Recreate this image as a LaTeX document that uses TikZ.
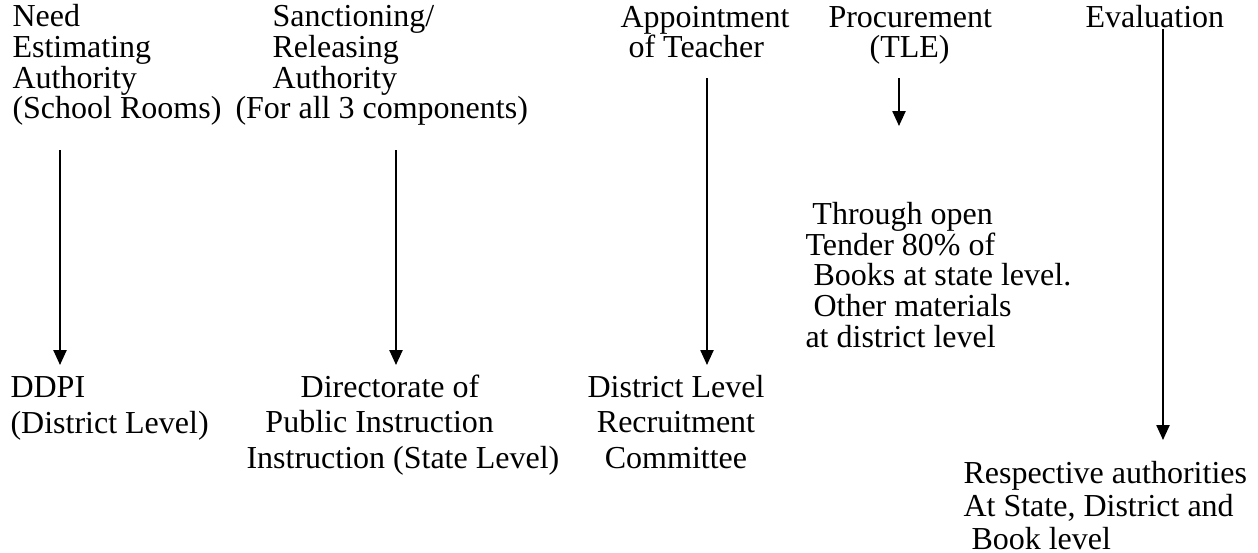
\documentclass[tikz,border=0pt]{standalone}
\usepackage{fontspec}
\setmainfont{Liberation Serif}
\usetikzlibrary{arrows.meta}
\begin{document}
\begin{tikzpicture}[x=0.375pt,y=0.375pt,
  txt/.style={inner sep=0pt, font=\fontsize{12pt}{11.44pt}\selectfont, align=left, anchor=base west},
  txtb/.style={txt, font=\fontsize{12pt}{13.4pt}\selectfont},
  txtr/.style={txt, font=\fontsize{12pt}{12.2pt}\selectfont},
  ctxt/.style={inner sep=0pt, font=\fontsize{12pt}{13.4pt}\selectfont, align=center, anchor=base},
  arr/.style={line width=0.75pt, -{Triangle[length=5.6pt,width=4.9pt]}}]
\fill[white] (0,0) rectangle (1258,-552);
\useasboundingbox (0,0) rectangle (1258,-552);
% top row (anchor = baseline of last line)
\node[txt] (need) at (12,-118.5) {Need\\Estimating\\Authority\\(School Rooms)};
\node[txt] (sanc) at (235,-118.5) {\hspace*{13.9pt}Sanctioning/\\\hspace*{13.9pt}Releasing\\\hspace*{13.9pt}Authority\\(For all 3 components)};
\node[txt] (appt) at (620,-57.5) {Appointment\\\hspace*{3pt}of Teacher};
\node[txt] (proc) at (828,-57.5) {Procurement\\\hspace*{15.4pt}(TLE)};
\node[txt] (eval) at (1085,-27) {Evaluation};
% procurement result
\node[txt] (tender) at (805,-347) {\hspace*{2.6pt}Through open\\Tender 80\% of\\\hspace*{3pt}Books at state level.\\\hspace*{3pt}Other materials\\at district level};
% bottom row
\node[txtb] (ddpi) at (10,-433) {DDPI\\(District Level)};
\node[txtb] (dpi) at (246,-468.5) {\hspace*{20.3pt}Directorate of\\\hspace*{7.1pt}Public Instruction\\Instruction (State Level)};
\node[ctxt] (dlrc) at (676,-468.5) {District Level\\Recruitment\\Committee};
\node[txtr] (resp) at (963,-549) {Respective authorities\\At State, District and\\\hspace*{3pt}Book level};
% arrow ends
\coordinate (a1s) at (60,-150);  \coordinate (a1e) at (60,-365);
\coordinate (a2s) at (396,-150); \coordinate (a2e) at (396,-365);
\coordinate (a3s) at (707,-78);  \coordinate (a3e) at (707,-365);
\coordinate (a4s) at (899,-78);  \coordinate (a4e) at (899,-126);
\coordinate (a5s) at (1163,-29); \coordinate (a5e) at (1163,-440);
\draw[arr] (a1s) -- (a1e);
\draw[arr] (a2s) -- (a2e);
\draw[arr] (a3s) -- (a3e);
\draw[arr] (a4s) -- (a4e);
\draw[arr] (a5s) -- (a5e);
\end{tikzpicture}
\end{document}
